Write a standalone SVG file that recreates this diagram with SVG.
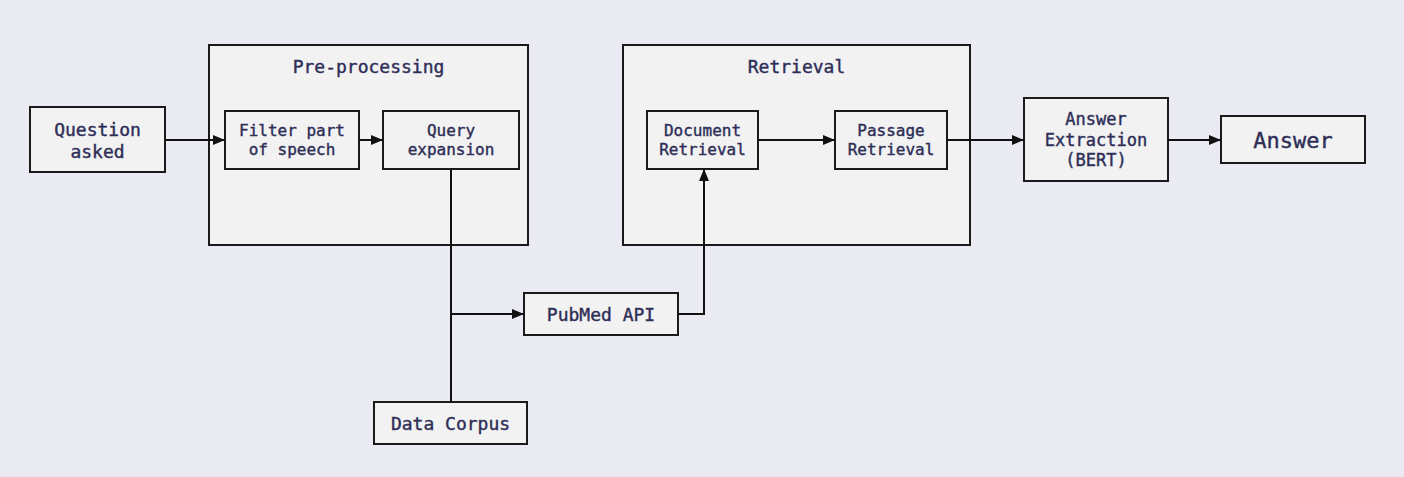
<svg xmlns="http://www.w3.org/2000/svg" width="1404" height="477" viewBox="0 0 1404 477">
<style>
.box{fill:#f2f2f2;stroke:#1a1a1a;stroke-width:2}
.t{font-family:"DejaVu Sans Mono","Liberation Mono",monospace;fill:#2e2e57;stroke:#2e2e57;stroke-width:0.4;text-anchor:middle;dominant-baseline:central}
.s{font-size:16px}
.x{font-size:17px}
.m{font-size:18px}
.l{font-size:22px}
.c{fill:none;stroke:#111;stroke-width:2}
</style>
<defs>
<marker id="ah" viewBox="0 0 12 10" refX="12" refY="5" markerWidth="12" markerHeight="10" markerUnits="userSpaceOnUse" orient="auto">
<path d="M0,0 L12,5 L0,10 z" fill="#111"/>
</marker>
</defs>
<rect width="1404" height="477" fill="#eaeaf2"/>
<g id="preprocessing">
<rect class="box" x="209" y="45" width="319" height="200"/>
<text class="t m" x="368.5" y="66">Pre-processing</text>
</g>
<g id="retrieval">
<rect class="box" x="623" y="45" width="347" height="200"/>
<text class="t m" x="796.5" y="66">Retrieval</text>
</g>
<g id="question">
<rect class="box" x="30" y="107" width="135" height="65"/>
<text class="t m" x="97.5" y="129">Question</text>
<text class="t m" x="97.5" y="151">asked</text>
</g>
<g id="filter">
<rect class="box" x="225" y="111" width="134" height="58"/>
<text class="t s" x="292" y="130">Filter part</text>
<text class="t s" x="292" y="149">of speech</text>
</g>
<g id="query">
<rect class="box" x="383" y="111" width="136" height="58"/>
<text class="t s" x="451" y="130">Query</text>
<text class="t s" x="451" y="149">expansion</text>
</g>
<g id="document">
<rect class="box" x="647" y="111" width="111" height="58"/>
<text class="t s" x="702.5" y="130">Document</text>
<text class="t s" x="702.5" y="149">Retrieval</text>
</g>
<g id="passage">
<rect class="box" x="835" y="111" width="112" height="58"/>
<text class="t s" x="891" y="130">Passage</text>
<text class="t s" x="891" y="149">Retrieval</text>
</g>
<g id="extraction">
<rect class="box" x="1024" y="98" width="144" height="83"/>
<text class="t x" x="1096" y="119">Answer</text>
<text class="t x" x="1096" y="139.5">Extraction</text>
<text class="t x" x="1096" y="160">(BERT)</text>
</g>
<g id="answer">
<rect class="box" x="1221" y="116" width="144" height="47"/>
<text class="t l" x="1293" y="140">Answer</text>
</g>
<g id="pubmed">
<rect class="box" x="524" y="293" width="154" height="42"/>
<text class="t m" x="601" y="314">PubMed API</text>
</g>
<g id="corpus">
<rect class="box" x="374" y="402" width="153" height="42"/>
<text class="t m" x="450.5" y="423">Data Corpus</text>
</g>
<g id="connectors">
<path class="c" d="M165,140 H225" marker-end="url(#ah)"/>
<path class="c" d="M359,140 H383" marker-end="url(#ah)"/>
<path class="c" d="M451,169 V402"/>
<path class="c" d="M451,314 H524" marker-end="url(#ah)"/>
<path class="c" d="M678,314 H704 V169" marker-end="url(#ah)"/>
<path class="c" d="M758,140 H835" marker-end="url(#ah)"/>
<path class="c" d="M947,140 H1024" marker-end="url(#ah)"/>
<path class="c" d="M1168,140 H1221" marker-end="url(#ah)"/>
</g>
</svg>
